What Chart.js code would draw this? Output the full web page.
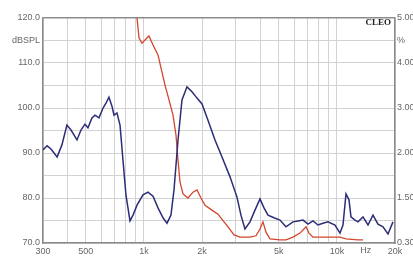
<!DOCTYPE html>
<html>
<head>
<meta charset="utf-8">
<script src="https://cdn.jsdelivr.net/npm/chart.js@4.4.1/dist/chart.umd.min.js"></script>
<style>
  html, body { margin: 0; padding: 0; background: #fff; }
  #wrap { width: 413px; height: 257px; }
</style>
</head>
<body>
<div id="wrap"><canvas id="c" width="413" height="257"></canvas></div>
<script>
// frequency response (blue) and distortion (red)
const blueFreq = [300, 315, 330, 355, 376, 399, 419, 450, 472, 495, 513, 538, 558, 585, 614, 636, 659, 683, 700, 725, 752, 779, 807, 847, 878, 921, 989, 1050, 1115, 1183, 1256, 1317, 1381, 1432, 1502, 1575, 1672, 1775, 1884, 2000, 2148, 2335, 2539, 2793, 3036, 3183, 3339, 3545, 3763, 3994, 4190, 4395, 4721, 5070, 5447, 5922, 6287, 6673, 7084, 7518, 7980, 8470, 8990, 9774, 10375, 10753, 11146, 11550, 11829, 12410, 12861, 13651, 14491, 15380, 16325, 17330, 18395, 19527];
const blueDb = [90.7, 91.6, 90.9, 89.1, 91.8, 96.2, 95.1, 92.9, 95.1, 96.4, 95.6, 97.8, 98.4, 97.8, 100.0, 101.1, 102.4, 100.4, 98.4, 98.9, 96.2, 88.4, 80.7, 74.9, 76.2, 78.4, 80.7, 81.3, 80.4, 77.8, 75.6, 74.4, 76.2, 81.8, 92.9, 101.8, 104.7, 103.6, 102.2, 100.9, 97.3, 92.9, 89.1, 84.7, 80.2, 76.2, 73.1, 74.7, 77.3, 79.8, 77.8, 76.2, 75.6, 75.1, 73.6, 74.7, 74.9, 75.1, 74.2, 74.9, 74.0, 74.4, 74.7, 74.0, 72.2, 74.0, 80.9, 79.6, 75.8, 75.1, 74.7, 75.8, 74.0, 76.2, 74.2, 73.6, 72.0, 74.7];

const redFreq = [900, 921, 943, 977, 1013, 1062, 1115, 1183, 1226, 1286, 1349, 1415, 1466, 1502, 1538, 1594, 1692, 1796, 1884, 1976, 2073, 2252, 2420, 2600, 2760, 2929, 3148, 3545, 3810, 3994, 4140, 4291, 4503, 5070, 5447, 5922, 6439, 6673, 6918, 7168, 7518, 8674, 10375, 11146, 12861, 13651];
const redDb = [122.9, 120.0, 115.6, 114.4, 115.1, 116.0, 114.0, 111.8, 108.9, 105.1, 101.8, 98.4, 94.0, 88.4, 83.6, 80.9, 80.0, 81.3, 81.8, 80.0, 78.4, 77.3, 76.4, 74.7, 73.3, 71.8, 71.3, 71.3, 71.6, 73.1, 74.7, 72.4, 70.9, 70.7, 70.7, 71.3, 72.2, 72.9, 73.6, 72.2, 71.3, 71.3, 71.3, 70.9, 70.7, 70.7];

// axes
const xGrid = [300, 400, 500, 600, 700, 800, 900, 1000, 2000, 3000, 4000, 5000, 6000, 7000, 8000, 9000, 10000, 20000];
const xLabels = { 300: '300', 500: '500', 1000: '1k', 2000: '2k', 5000: '5k', 10000: '10k', 20000: '20k' };
const leftLabels = { 120: '120.0', 115: 'dBSPL', 110: '110.0', 100: '100.0', 90: '90.0', 80: '80.0', 70: '70.0' };
const rightLabels = { 120: '5.00', 115: '%', 110: '4.00', 100: '3.00', 90: '2.00', 80: '1.50', 70: '0.30' };

const toPoints = (fs, vs) => fs.map((f, i) => ({ x: f, y: vs[i] }));

const tickFont = { family: 'Arial, "Liberation Sans", sans-serif', size: 9 };
const labelColor = '#666';
const gridColor = '#d2d2d2';
const frameColor = '#8c8c8c';

const extraText = {
  id: 'extraText',
  afterDraw(chart) {
    const ctx = chart.ctx;
    const x = chart.scales.x;
    ctx.save();
    ctx.fillStyle = labelColor;
    ctx.font = '9px Arial, "Liberation Sans", sans-serif';
    ctx.textAlign = 'center';
    ctx.textBaseline = 'top';
    ctx.fillText('Hz', x.getPixelForValue(14100), x.top + 3);
    ctx.fillStyle = '#222';
    ctx.font = 'bold 9px "Liberation Serif", serif';
    ctx.textAlign = 'right';
    ctx.textBaseline = 'middle';
    ctx.fillText('CLEO', chart.chartArea.right - 4, chart.chartArea.top + 5);
    ctx.restore();
  }
};

new Chart(document.getElementById('c'), {
  type: 'line',
  data: {
    datasets: [
      {
        data: toPoints(blueFreq, blueDb),
        borderColor: '#2c2d78',
        borderWidth: 1.5,
        pointRadius: 0,
        tension: 0
      },
      {
        data: toPoints(redFreq, redDb),
        borderColor: '#d2462c',
        borderWidth: 1.3,
        pointRadius: 0,
        tension: 0
      }
    ]
  },
  options: {
    responsive: false,
    animation: false,
    layout: { padding: { top: 18, left: 0, right: 0, bottom: 0 } },
    plugins: { legend: { display: false }, tooltip: { enabled: false } },
    scales: {
      x: {
        type: 'logarithmic',
        min: 300,
        max: 20000,
        afterBuildTicks: s => { s.ticks = xGrid.map(v => ({ value: v })); },
        afterFit: s => { s.height = 14; },
        ticks: {
          autoSkip: false,
          maxRotation: 0,
          padding: 3,
          font: tickFont,
          color: labelColor,
          callback: v => xLabels[v] || ''
        },
        grid: { color: gridColor, drawTicks: false },
        border: { color: frameColor, width: 1.5 }
      },
      y: {
        min: 70,
        max: 120,
        afterBuildTicks: s => {
          s.ticks = [];
          for (let v = 70; v <= 120; v += 5) s.ticks.push({ value: v });
        },
        afterFit: s => { s.width = 43; },
        ticks: {
          padding: 3,
          font: tickFont,
          color: labelColor,
          callback: v => leftLabels[v] || ''
        },
        grid: {
          color: c => (c.tick && c.tick.value === 120 ? frameColor : gridColor),
          lineWidth: c => (c.tick && c.tick.value === 120 ? 1.5 : 1),
          drawTicks: false
        },
        border: { color: frameColor, width: 1.5 }
      },
      y2: {
        position: 'right',
        min: 70,
        max: 120,
        afterBuildTicks: s => {
          s.ticks = [];
          for (let v = 70; v <= 120; v += 5) s.ticks.push({ value: v });
        },
        afterFit: s => { s.width = 18; },
        ticks: {
          padding: 2,
          font: tickFont,
          color: labelColor,
          callback: v => rightLabels[v] || ''
        },
        grid: { drawOnChartArea: false, drawTicks: false },
        border: { color: frameColor, width: 1.5 }
      }
    }
  },
  plugins: [extraText]
});
</script>
</body>
</html>
